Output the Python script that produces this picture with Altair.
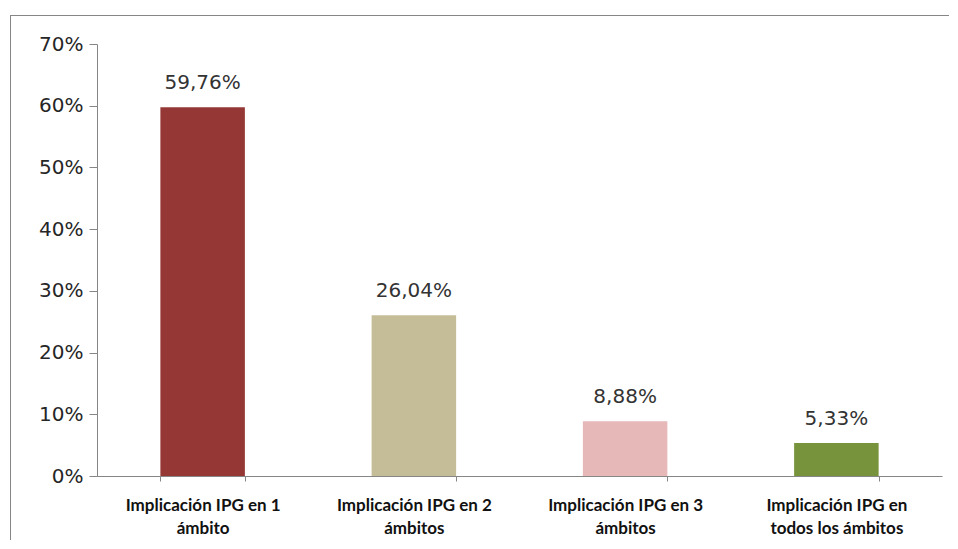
import altair as alt
import pandas as pd

categories = ["Implicación IPG en 1\námbito",
              "Implicación IPG en 2\námbitos",
              "Implicación IPG en 3\námbitos",
              "Implicación IPG en\ntodos los ámbitos"]
values = [59.76, 26.04, 8.88, 5.33]
colors = ["#953735", "#C4BD97", "#E6B9B8", "#77933C"]
y_ticks = [0, 10, 20, 30, 40, 50, 60, 70]

df = pd.DataFrame({"cat": categories, "val": values})

W, H = 845, 432

x = alt.X("cat:N", sort=categories, title=None,
          scale=alt.Scale(paddingInner=0.6, paddingOuter=0.3),
          axis=alt.Axis(labelAngle=0, labelExpr="split(datum.label, '\\n')",
                        labelFont="Lato", labelFontSize=17, labelFontWeight="bold",
                        labelColor="#111111",
                        labelLineHeight=23, labelPadding=16,
                        tickBand="extent", tickSize=5, tickColor="#868686",
                        domainColor="#868686", grid=False))
y = alt.Y("val:Q", title=None,
          scale=alt.Scale(domain=[0, 70], nice=False),
          axis=alt.Axis(values=y_ticks, labelExpr="datum.value + '%'",
                        labelFont="DejaVu Sans", labelFontSize=20, labelColor="#262626",
                        labelPadding=6, tickSize=8, tickColor="#868686",
                        domainColor="#868686", grid=False))

base = alt.Chart(df)

bars = base.mark_bar().encode(
    x=x, y=y,
    color=alt.Color("cat:N", sort=categories, scale=alt.Scale(domain=categories, range=colors), legend=None),
)

labels = base.transform_calculate(
    lab="replace(format(datum.val, '.2f'), '.', ',') + '%'"
).mark_text(font="DejaVu Sans", fontSize=20, color="#333333", baseline="alphabetic", dy=-18).encode(
    x=alt.X("cat:N", sort=categories), y="val:Q", text="lab:N"
)

frame_src = alt.Chart(pd.DataFrame({"a": [0]}))
frame_top = frame_src.mark_rect(color="#868686", strokeWidth=0).encode(
    x=alt.value(-87), x2=alt.value(852), y=alt.value(-29), y2=alt.value(-28))
frame_left = frame_src.mark_rect(color="#868686", strokeWidth=0).encode(
    x=alt.value(-87), x2=alt.value(-86), y=alt.value(-29), y2=alt.value(496))

chart = alt.layer(frame_top, frame_left, bars, labels).properties(
    width=W, height=H,
    autosize=alt.AutoSizeParams(type="none"),
    padding={"left": 89, "top": 36, "right": 8, "bottom": 65},
    background="white",
).configure_view(stroke=None)

chart.save("out.html", embed_options={"renderer": "svg", "actions": False})
